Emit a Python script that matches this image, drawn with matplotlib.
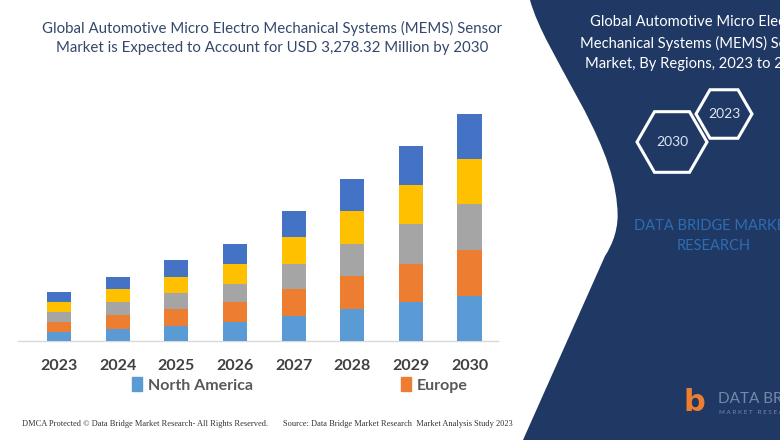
import matplotlib
matplotlib.use("Agg")
import matplotlib.pyplot as plt
from matplotlib.path import Path
from matplotlib.patches import PathPatch, RegularPolygon, Patch

years = ["2023", "2024", "2025", "2026", "2027", "2028", "2029", "2030"]
regions = ["North America", "Europe", "Asia-Pacific", "Middle East and Africa", "South America"]
north_america = [9.0, 12.3, 15.3, 19.0, 25.3, 32.0, 38.7, 45.3]
europe = [10.0, 13.3, 16.7, 19.7, 26.3, 32.7, 38.7, 45.3]
asia_pacific = [9.7, 13.0, 16.3, 18.7, 25.7, 32.3, 39.3, 46.0]
middle_east_africa = [10.0, 13.0, 15.7, 20.0, 26.7, 33.3, 39.0, 45.7]
south_america = [10.0, 12.7, 16.7, 19.7, 26.3, 32.0, 39.7, 45.0]
series = [north_america, europe, asia_pacific, middle_east_africa, south_america]
colors = ["#5b9bd5", "#ed7d31", "#a5a5a5", "#ffc000", "#4472c4"]

W, H = 780, 440
fig = plt.figure(figsize=(7.8, 4.4), dpi=100)
fig.patch.set_facecolor("white")

def fx(px):
    return px / W

def fy(py):
    return 1 - py / H

# main axes
ax = fig.add_axes([fx(18), fy(341), fx(498) - fx(18), fy(100) - fy(341)])
x = list(range(len(years)))
bottom = [0.0] * len(years)
for vals, c, name in zip(series, colors, regions):
    ax.bar(x, vals, bottom=bottom, width=0.41, color=c, label=name, zorder=3)
    bottom = [b + v for b, v in zip(bottom, vals)]
ax.set_xlim(-0.70, 7.486)
ax.set_ylim(0, 241)
for s in ["top", "right", "left"]:
    ax.spines[s].set_visible(False)
ax.spines["bottom"].set_color("#d9d9d9")
ax.spines["bottom"].set_linewidth(1.0)
ax.set_yticks([])
ax.set_xticks(x)
ax.set_xticklabels(years, fontfamily="Lato", fontweight="bold", fontsize=11.5, color="#404040")
ax.tick_params(axis="x", length=0, pad=13)
ax.patch.set_alpha(0)

# legend (only first two entries visible)
handles = [Patch(color=colors[0]), Patch(color=colors[1])]
leg = fig.legend(handles, regions[:2], loc="center left", bbox_to_anchor=(fx(118), fy(385)),
                 ncol=2, frameon=False, handlelength=0.6, handleheight=0.9, handletextpad=0.35,
                 columnspacing=9.3, prop={"family": "Lato", "weight": "bold", "size": 11.5})
for t in leg.get_texts():
    t.set_color("#595959")

# title
fig.text(fx(272), fy(28), "Global Automotive Micro Electro Mechanical Systems (MEMS) Sensor",
         ha="center", va="center", fontfamily="Lato", fontsize=10.8, color="#34486c")
fig.text(fx(272), fy(48), "Market is Expected to Account for USD 3,278.32 Million by 2030",
         ha="center", va="center", fontfamily="Lato", fontsize=10.8, color="#34486c")

# footer
fig.text(fx(22), fy(424), "DMCA Protected \u00a9 Data Bridge Market Research- All Rights Reserved.",
         ha="left", va="center", fontfamily="Liberation Serif", fontsize=6, color="#333333")
fig.text(fx(283), fy(424), "Source: Data Bridge Market Research  Market Analysis Study 2023",
         ha="left", va="center", fontfamily="Liberation Serif", fontsize=6, color="#333333")

# right navy panel
def P(px, py):
    return (fx(px), fy(py))

verts = [P(530, 0),
         P(545, 55), P(612, 135), P(617, 205),
         P(620, 228), P(612, 245), P(605, 256),
         P(523, 440), P(790, 440), P(790, -5), P(530, -5), P(530, 0)]
codes = [Path.MOVETO,
         Path.CURVE4, Path.CURVE4, Path.CURVE4,
         Path.CURVE4, Path.CURVE4, Path.CURVE4,
         Path.LINETO, Path.LINETO, Path.LINETO, Path.LINETO, Path.CLOSEPOLY]
panel = PathPatch(Path(verts, codes), transform=fig.transFigure, facecolor="#1f3864",
                  edgecolor="none", zorder=5)
fig.patches.append(panel)

for i, line in enumerate(["Global Automotive Micro Electro",
                          "Mechanical Systems (MEMS) Sensor",
                          "Market, By Regions, 2023 to 2030"]):
    fig.text(fx(697), fy(22 + i * 21), line, ha="center", va="center", fontfamily="Lato",
             fontsize=10.6, color="white", zorder=6)

# hexagons
for (cx, cy, r, label) in [(672, 142, 35, "2030"), (724, 114, 28, "2023")]:
    hexa = RegularPolygon((cx / 100, (H - cy) / 100), numVertices=6, radius=r / 100,
                          orientation=3.14159265 / 2, transform=fig.dpi_scale_trans,
                          facecolor="none", edgecolor="white", linewidth=2.2, zorder=6)
    fig.patches.append(hexa)
    fig.text(fx(cx), fy(cy), label, ha="center", va="center", fontfamily="Lato",
             fontsize=10, color="#dfe6f0", zorder=7)

fig.text(fx(714), fy(226), "DATA BRIDGE MARKET", ha="center", va="center", fontfamily="Lato",
         fontsize=10.5, color="#2e6db4", zorder=6)
fig.text(fx(714), fy(246), "RESEARCH", ha="center", va="center", fontfamily="Lato",
         fontsize=10.5, color="#2e6db4", zorder=6)

# logo bottom right
fig.text(fx(694), fy(402), "b", ha="center", va="center", fontfamily="DejaVu Sans",
         fontweight="bold", fontsize=22, color="#ed7d31", zorder=6)
fig.text(fx(718), fy(399), "DATA BRIDGE", ha="left", va="center", fontfamily="Lato",
         fontsize=11, color="#7388ab", zorder=6)
fig.text(fx(719), fy(412), "M A R K E T   R E S E A R C H", ha="left", va="center", fontfamily="Lato",
         fontsize=4.5, color="#7388ab", zorder=6)

fig.savefig("out.png", dpi=100)
